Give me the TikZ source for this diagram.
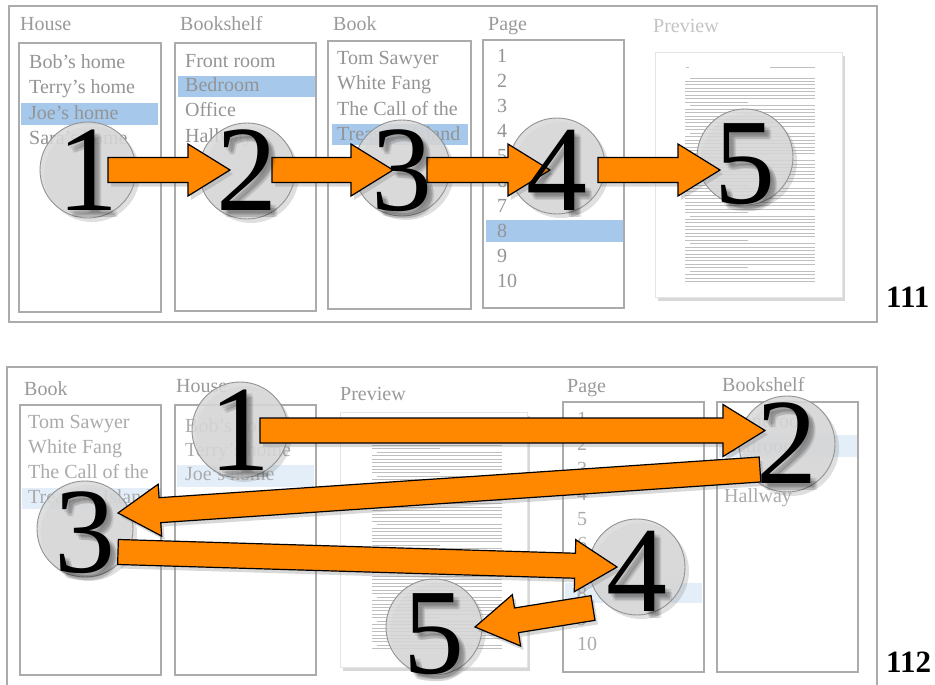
\documentclass[tikz,border=0pt]{standalone}
\usepackage{fontspec}
\setmainfont{Liberation Serif}
\usetikzlibrary{calc,shadows}
\definecolor{txt}{HTML}{949494}
\definecolor{txtb}{HTML}{ABABAB}
\definecolor{lbl}{HTML}{9A9A9A}
\definecolor{lblp}{HTML}{C4C4C4}
\definecolor{frm}{HTML}{ABABAB}
\definecolor{hl}{HTML}{A5C8EB}
\definecolor{hlp}{HTML}{E3EEF9}
\definecolor{orng}{HTML}{FF8800}
\definecolor{circfill}{HTML}{D9D9D9}
\newcommand\fatarrow[2]{%
  \coordinate (h) at ($(#2)!42pt!(#1)$);
  \filldraw[fatarr] ($(#1)!12.5pt!90:(#2)$) -- ($(h)!12.5pt!90:(#2)$) -- ($(h)!26pt!90:(#2)$) -- (#2) -- ($(h)!26pt!-90:(#2)$) -- ($(h)!12.5pt!-90:(#2)$) -- ($(#1)!12.5pt!-90:(#2)$) -- cycle;}
\begin{document}
\begin{tikzpicture}[x=1pt,y=-1pt,
  frame/.style={draw=frm,line width=1.5pt},
  listbox/.style={draw=frm,line width=1.5pt},
  item/.style={anchor=base west,inner sep=0,text=txt,font=\fontsize{20}{24}\selectfont},
  itemb/.style={item,text=txtb},
  label/.style={anchor=base west,inner sep=0,text=lbl,font=\fontsize{20}{24}\selectfont},
  labelp/.style={label,text=lblp},
  txtline/.style={draw=gray!50,line width=0.9pt},
  pagest/.style={fill=white,draw=gray!20,line width=0.5pt,drop shadow={opacity=0.3,shadow xshift=3pt,shadow yshift=-4pt}},
  circ/.style={circle,minimum size=96pt,inner sep=0,fill=circfill,fill opacity=0.85,draw=gray!85,line width=0.9pt,drop shadow={opacity=0.25,shadow xshift=4pt,shadow yshift=-4pt}},
  fatarr/.style={fill=orng,draw=black,line width=1.2pt,line join=miter,drop shadow={opacity=0.3,shadow xshift=3pt,shadow yshift=-4pt}},
  dig/.style={anchor=base,inner sep=0,font=\fontsize{122}{122}\selectfont,text=black},
  digsh/.style={dig,text=black,text opacity=0.09},
  num/.style={anchor=base west,inner sep=0,font=\fontsize{31}{31}\selectfont\bfseries,text=black}]
\useasboundingbox (0,0) rectangle (935,685);
\fill[white] (0,0) rectangle (935,685);
% ================= panel 1 =================
\draw[frame] (9,6) rectangle (877,322);
\draw[listbox] (19,43) rectangle (161,312);
\draw[listbox] (175,43) rectangle (316,311);
\draw[listbox] (328,41) rectangle (471,309);
\draw[listbox] (483,40) rectangle (624,308);
\fill[hl] (21,103) rectangle (158,125);
\fill[hl] (178,76) rectangle (315,97);
\fill[hl] (332,124) rectangle (468,145);
\fill[hl] (486,220) rectangle (623,242);
\node[label] (pa1) at (20,31) {House};
\node[label] (pa2) at (180,31) {Bookshelf};
\node[label] (pa3) at (333,31) {Book};
\node[label] (pa4) at (488,31) {Page};
\node[labelp] (pa5) at (653,33) {Preview};
\node[item] (h1a) at (29,69) {Bob’s home};
\node[item] (h1b) at (29,94) {Terry’s home};
\node[item] (h1c) at (29,119) {Joe’s home};
\node[item] (h1d) at (29,144) {Sara’s home};
\node[item] (s1a) at (185,68) {Front room};
\node[item] (s1b) at (185,92) {Bedroom};
\node[item] (s1c) at (185,117) {Office};
\node[item] (s1d) at (185,142) {Hallway};
\node[item] (b1a) at (337,65) {Tom Sawyer};
\node[item] (b1b) at (337,90) {White Fang};
\node[item] (b1c) at (337,115) {The Call of the};
\node[item] (b1d) at (337,140) {Treasure Island};
\foreach \i in {1,...,10}{
  \pgfmathsetmacro\yy{63+24.9*(\i-1)}
  \node[item] (pg1n\i) at (497,\yy) {\i};
}
% preview page 1
\filldraw[pagest] (655,52) rectangle (842,297);
\draw[txtline] (686,67) -- (689,67);
\draw[txtline] (770,67) -- (815,67);
\foreach \i in {0,...,59}{
  \pgfmathsetmacro\yy{78+3.45*\i}
  \pgfmathsetmacro\xs{mod(\i,8)==0 ? 690 : 685}
  \pgfmathsetmacro\xe{mod(\i,8)==7 ? 748 : 815}
  \draw[txtline] (\xs,\yy) -- (\xe,\yy);
}
% circles
\node[circ] (c1) at (88,170) {};
\node[circ] (c2) at (247,171) {};
\node[circ] (c3) at (402,168) {};
\node[circ] (c4) at (557,166) {};
\node[circ] (c5) at (745,157) {};
% arrows
\coordinate (a1s) at (108,170); \coordinate (a1t) at (230,170);
\coordinate (a2s) at (272,170); \coordinate (a2t) at (393,170);
\coordinate (a3s) at (427,170); \coordinate (a3t) at (550,170);
\coordinate (a4s) at (598,170); \coordinate (a4t) at (720,170);
\fatarrow{a1s}{a1t}
\fatarrow{a2s}{a2t}
\fatarrow{a3s}{a3t}
\fatarrow{a4s}{a4t}
% digits
\foreach \n/\c/\dy in {1/c1/40,2/c2/39,3/c3/42,4/c4/44,5/c5/46}{
  \foreach \ox/\oy in {2/3,4/5,6/4,5/7,7/7}{
    \node[digsh] at ($(\c)+(\ox,\dy+\oy)$) {\n};
  }
  \node[dig] (d1\n) at ($(\c)+(0,\dy)$) {\n};
}
\node[num] (n111) at (886,307) {111};
% ================= panel 2 =================
\draw[frame] (7,367) rectangle (877,695);
\draw[listbox] (20,405) rectangle (161,675);
\draw[listbox] (175,405) rectangle (316,675);
\draw[listbox] (563,402) rectangle (704,672);
\draw[listbox] (717,402) rectangle (858,672);
\fill[hlp] (22,488) rectangle (160,509);
\fill[hlp] (177,465) rectangle (314,487);
\fill[hlp] (565,583) rectangle (702,603);
\fill[hlp] (719,435) rectangle (857,457);
\node[label] (pb1) at (24,395) {Book};
\node[label] (pb2) at (176,392) {House};
\node[label] (pb3) at (340,400) {Preview};
\node[label] (pb4) at (567,392) {Page};
\node[label] (pb5) at (722,391) {Bookshelf};
\node[itemb] (b2a) at (28,428) {Tom Sawyer};
\node[itemb] (b2b) at (28,453) {White Fang};
\node[itemb] (b2c) at (28,478) {The Call of the};
\node[itemb] (b2d) at (28,503) {Treasure Island};
\node[itemb] (h2a) at (185,432) {Bob’s home};
\node[itemb] (h2b) at (185,456) {Terry’s home};
\node[itemb] (h2c) at (185,480) {Joe’s home};
\foreach \i in {1,...,10}{
  \pgfmathsetmacro\yy{425+25*(\i-1)}
  \node[itemb] (pg2n\i) at (577,\yy) {\i};
}
\node[itemb] (s2a) at (724,427) {Front room};
\node[itemb] (s2b) at (724,452) {Bedroom};
\node[itemb] (s2c) at (724,477) {Office};
\node[itemb] (s2d) at (724,502) {Hallway};
% preview page 2
\filldraw[pagest] (340,412) rectangle (527,667);
\foreach \i in {0,...,64}{
  \pgfmathsetmacro\yy{428+3.45*\i}
  \pgfmathsetmacro\xs{mod(\i,7)==0 ? 377 : 372}
  \pgfmathsetmacro\xe{mod(\i,7)==6 ? 440 : 502}
  \draw[txtline] (\xs,\yy) -- (\xe,\yy);
}
% circles
\node[circ] (e1) at (240,430) {};
\node[circ] (e2) at (787,444) {};
\node[circ] (e3) at (85,529) {};
\node[circ] (e4) at (637,567) {};
\node[circ] (e5) at (434,627) {};
% arrows
\coordinate (b1s) at (260,430.5); \coordinate (b1t) at (765,430.5);
\coordinate (b2s) at (760,469.5); \coordinate (b2t) at (118,513);
\coordinate (b3s) at (118,552); \coordinate (b3t) at (617,567);
\coordinate (b4s) at (593,608); \coordinate (b4t) at (475,627);
\fatarrow{b1s}{b1t}
\fatarrow{b2s}{b2t}
\fatarrow{b3s}{b3t}
\fatarrow{b4s}{b4t}
% digits
\foreach \n/\c/\dy in {1/e1/40,2/e2/39,3/e3/43,4/e4/44,5/e5/46}{
  \foreach \ox/\oy in {2/3,4/5,6/4,5/7,7/7}{
    \node[digsh] at ($(\c)+(\ox,\dy+\oy)$) {\n};
  }
  \node[dig] (d2\n) at ($(\c)+(0,\dy)$) {\n};
}
\node[num] (n112) at (886,672) {112};
\end{tikzpicture}
\end{document}
